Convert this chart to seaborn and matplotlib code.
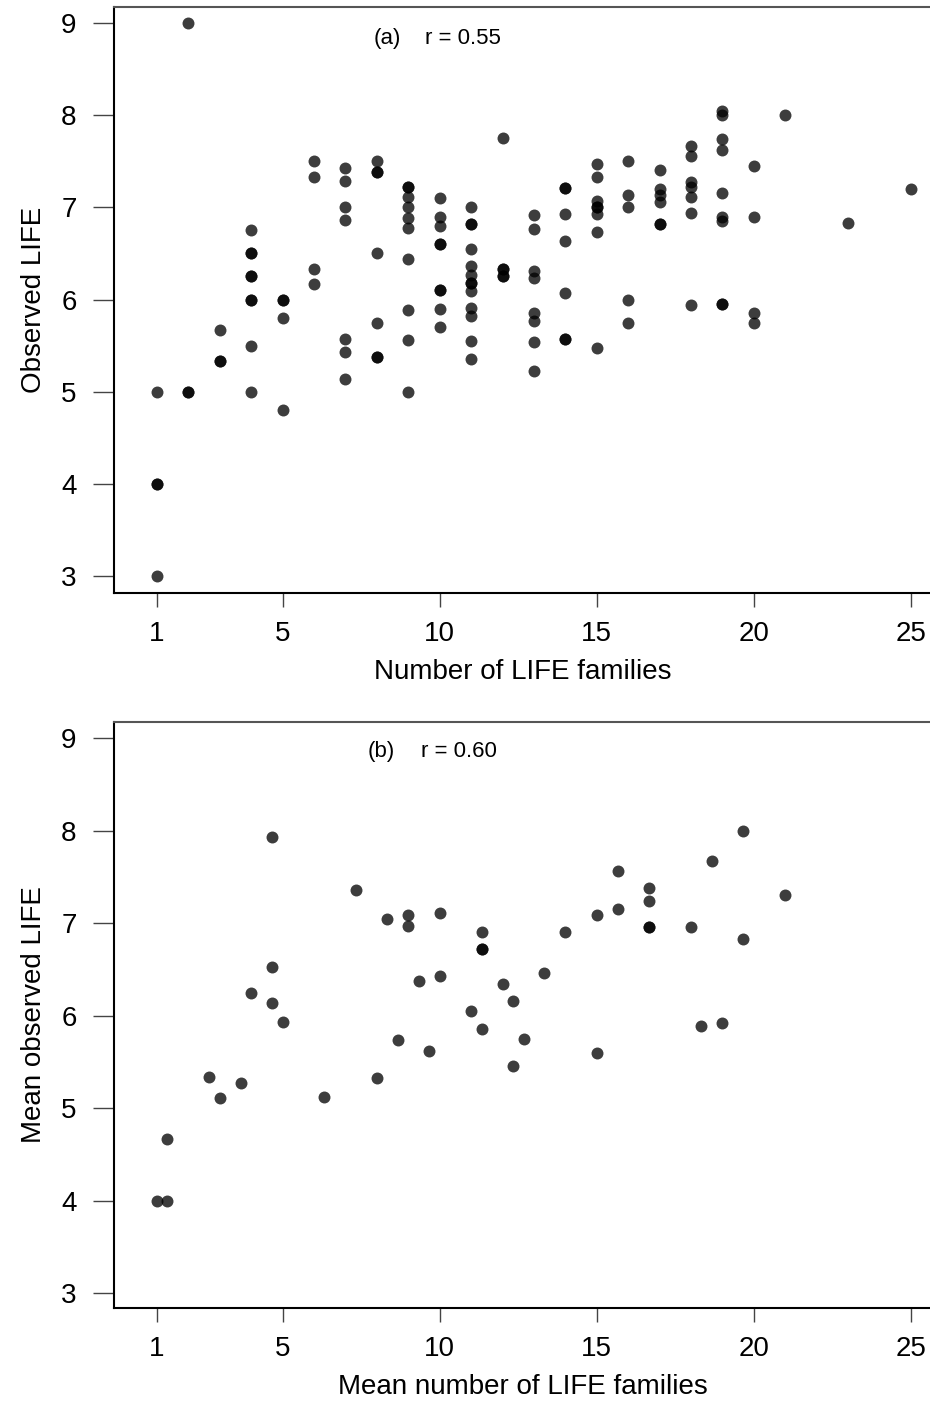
import numpy as np
import pandas as pd
import matplotlib
matplotlib.use("Agg")
import matplotlib.pyplot as plt
import seaborn as sns

# (a) individual observations: number of LIFE families vs observed LIFE
family_levels_a = [1, 2, 3, 4, 5, 6, 7, 8, 9, 10, 11, 12, 13, 14, 15, 16, 17, 18, 19, 20, 21, 23, 25]
points_per_level_a = [4, 3, 3, 9, 4, 4, 7, 7, 10, 9, 13, 5, 8, 7, 8, 5, 6, 7, 9, 4, 1, 1, 1]
observed_life_a = [
    5.0, 4.0, 4.0, 3.0,
    9.0, 5.0, 5.0,
    5.67, 5.33, 5.33,
    6.75, 6.5, 6.5, 6.25, 6.25, 6.0, 6.0, 5.5, 5.0,
    6.0, 6.0, 5.8, 4.8,
    7.5, 7.33, 6.33, 6.17,
    7.43, 7.29, 7.0, 6.86, 5.57, 5.43, 5.14,
    7.5, 7.38, 7.38, 6.5, 5.75, 5.38, 5.38,
    7.22, 7.22, 7.11, 7.0, 6.89, 6.78, 6.44, 5.89, 5.56, 5.0,
    7.1, 6.9, 6.8, 6.6, 6.6, 6.1, 6.1, 5.9, 5.7,
    7.0, 6.82, 6.82, 6.55, 6.36, 6.27, 6.18, 6.18, 6.09, 5.91, 5.82, 5.55, 5.36,
    7.75, 6.33, 6.33, 6.25, 6.25,
    6.92, 6.77, 6.31, 6.23, 5.85, 5.77, 5.54, 5.23,
    7.21, 7.21, 6.93, 6.64, 6.07, 5.57, 5.57,
    7.47, 7.33, 7.07, 7.0, 7.0, 6.93, 6.73, 5.47,
    7.5, 7.13, 7.0, 6.0, 5.75,
    7.41, 7.2, 7.13, 7.06, 6.82, 6.82,
    7.67, 7.56, 7.28, 7.22, 7.11, 6.94, 5.94,
    8.05, 8.0, 7.74, 7.62, 7.16, 6.9, 6.85, 5.95, 5.95,
    7.45, 6.9, 5.85, 5.75,
    8.0,
    6.83,
    7.2,
]

# (b) group means
mean_families_b = [
    1.0, 1.33, 1.33, 2.67, 3.0, 3.67, 4.0, 4.67, 4.67, 4.67, 5.0, 6.33,
    7.33, 8.0, 8.33, 8.67, 9.0, 9.0, 9.33, 9.67, 10.0, 10.0, 11.0, 11.33,
    11.33, 11.33, 11.33, 12.0, 12.33, 12.33, 12.67, 13.33, 14.0, 15.0, 15.0,
    15.67, 15.67, 16.67, 16.67, 16.67, 16.67, 18.0, 18.33, 18.67, 19.0,
    19.67, 19.67, 21.0,
]
mean_life_b = [
    4.0, 4.0, 4.67, 5.33, 5.11, 5.27, 6.24, 7.93, 6.52, 6.14, 5.93, 5.12,
    7.36, 5.32, 7.04, 5.73, 7.09, 6.97, 6.37, 5.62, 7.11, 6.43, 6.05, 6.9,
    6.72, 6.72, 5.85, 6.34, 6.16, 5.45, 5.75, 6.46, 6.9, 7.09, 5.6,
    7.56, 7.15, 7.38, 7.24, 6.96, 6.96, 6.96, 5.89, 7.67, 5.92,
    8.0, 6.83, 7.3,
]

x_ticks = [1, 5, 10, 15, 20, 25]
y_ticks = [3, 4, 5, 6, 7, 8, 9]

panel_a = pd.DataFrame({
    "families": np.repeat(family_levels_a, points_per_level_a),
    "life": observed_life_a,
})
panel_b = pd.DataFrame({"families": mean_families_b, "life": mean_life_b})

sns.set_theme(style="ticks")
plt.rcParams["font.family"] = ["Liberation Sans", "DejaVu Sans"]

fig = plt.figure(figsize=(9.3, 14.01), dpi=100)
W, H = 930.0, 1401.0


def make_axes(top_px, bottom_px, left_px=114, right_px=931):
    return fig.add_axes([left_px / W, 1 - bottom_px / H,
                         (right_px - left_px) / W, (bottom_px - top_px) / H])


ax_a = make_axes(7, 593)
ax_b = make_axes(722, 1308)

panels = [
    (ax_a, panel_a, "Number of LIFE families", "Observed LIFE",
     ("(a)", 7.88), ("r = 0.55", 9.54), 8.83, (2.816, 9.174)),
    (ax_b, panel_b, "Mean number of LIFE families", "Mean observed LIFE",
     ("(b)", 7.72), ("r = 0.60", 9.41), 8.85, (2.838, 9.173)),
]

for ax, df, xlabel, ylabel, tag, stat, note_y, ylim in panels:
    sns.scatterplot(data=df, x="families", y="life", ax=ax, s=74,
                    color="black", alpha=0.76, linewidth=0, legend=False)
    ax.set_xlim(-0.37, 25.64)
    ax.set_ylim(*ylim)
    ax.set_xticks(x_ticks)
    ax.set_yticks(y_ticks)
    ax.tick_params(axis="x", length=10, width=1.0, color="#444444",
                   pad=10, labelsize=20, labelcolor="black")
    ax.tick_params(axis="y", length=15, width=1.0, color="#444444",
                   pad=12, labelsize=20, labelcolor="black")
    ax.set_xlabel(xlabel, fontsize=20, labelpad=9, color="black")
    ax.set_ylabel(ylabel, fontsize=20, labelpad=10, color="black")
    for side in ("left", "bottom"):
        ax.spines[side].set_color("black")
        ax.spines[side].set_linewidth(1.5)
    ax.spines["top"].set_color("#555555")
    ax.spines["top"].set_linewidth(1.5)
    ax.spines["right"].set_visible(False)
    ax.text(tag[1], note_y, tag[0], fontsize=16, ha="left",
            va="center", color="black")
    ax.text(stat[1], note_y, stat[0], fontsize=16, ha="left",
            va="center", color="black")

fig.savefig("out.png", dpi=100, facecolor="white")
